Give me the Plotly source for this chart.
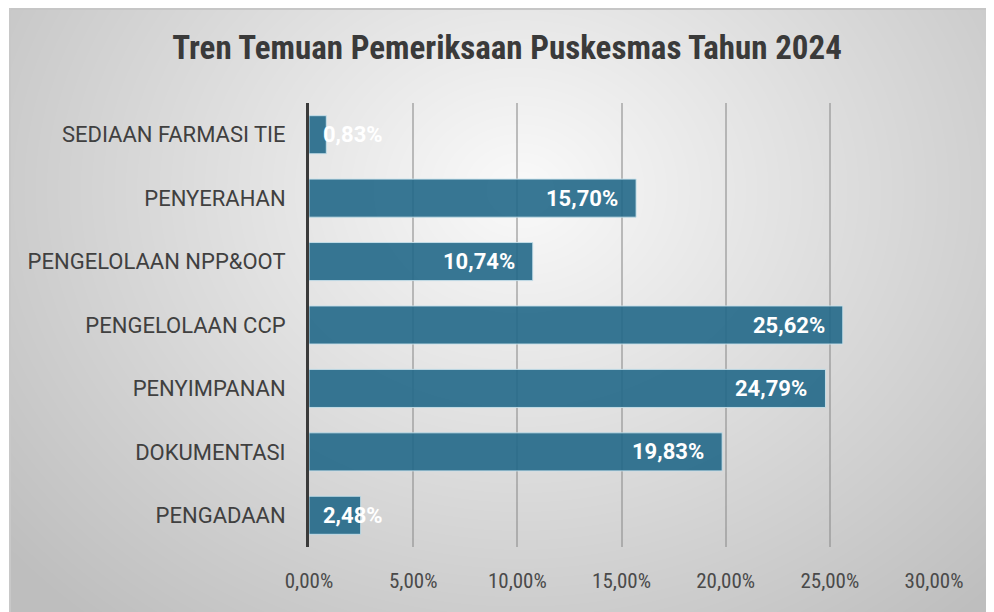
import base64, struct, zlib
import numpy as np
import plotly.graph_objects as go

categories = ["SEDIAAN FARMASI TIE", "PENYERAHAN", "PENGELOLAAN NPP&OOT",
              "PENGELOLAAN CCP", "PENYIMPANAN", "DOKUMENTASI", "PENGADAAN"]
values = [0.83, 15.70, 10.74, 25.62, 24.79, 19.83, 2.48]
x_ticks = [0, 5, 10, 15, 20, 25, 30]

# page has 8px body margin -> figure coordinates = page coordinates - 8
OFF = 8
W, H = 994, 612
ML, MT = 309 - OFF, 103 - OFF
MR = W - (934 - OFF)
MB = H - (547 - OFF)
PW, PH = W - ML - MR, H - MT - MB


def make_png(arr):
    h, w = arr.shape
    raw = b"".join(b"\x00" + arr[i].tobytes() for i in range(h))
    def chunk(t, d):
        c = struct.pack(">I", len(d)) + t + d
        return c + struct.pack(">I", zlib.crc32(t + d) & 0xffffffff)
    png = b"\x89PNG\r\n\x1a\n" + chunk(b"IHDR", struct.pack(">IIBBBBB", w, h, 8, 0, 0, 0, 0))
    png += chunk(b"IDAT", zlib.compress(raw, 9)) + chunk(b"IEND", b"")
    return "data:image/png;base64," + base64.b64encode(png).decode()

# background frame with radial gradient (decoration)
fx0, fy0 = 9 - OFF, 0
bw, bh = W - fx0 + 10, H - fy0 + 10
yy, xx = np.mgrid[0:bh, 0:bw]
cx, cy = 520 - OFF - fx0, 190 - OFF - fy0
d = np.sqrt(((xx - cx) / 620.0) ** 2 + ((yy - cy) / 520.0) ** 2)
g = 250 - 55 * np.clip(d, 0, 1.2)
g = np.clip(g, 190, 252)
g[0:2, :] = 198
g[:, 0:2] = 200
img = make_png(g.astype(np.uint8))


def px2paper_x(px):
    return (px - ML) / PW


def px2paper_y(py):
    return (H - MB - py) / PH


labels = [f"{v:.2f}".replace(".", ",") + "%" for v in values]
lab_font = dict(family="Roboto", size=22, color="white", weight="bold")

fig = go.Figure()
fig.add_trace(go.Bar(
    y=categories, x=[v / 100 for v in values], orientation="h",
    marker=dict(color="rgba(34,104,136,0.9)", line=dict(color="rgba(200,225,235,0.9)", width=1)),
    hoverinfo="skip",
))

for v, lab, c in zip(values, labels, categories):
    if v <= 5:
        fig.add_annotation(x=0, y=c, xref="x", yref="y", text=lab, showarrow=False,
                           xanchor="left", xshift=12, font=lab_font)
    else:
        fig.add_annotation(x=v / 100, y=c, xref="x", yref="y", text=lab, showarrow=False,
                           xanchor="right", xshift=-16, font=lab_font)

fig.add_layout_image(dict(
    source=img, xref="paper", yref="paper",
    x=px2paper_x(fx0), y=px2paper_y(fy0),
    sizex=bw / PW, sizey=bh / PH, sizing="stretch",
    xanchor="left", yanchor="top", layer="below",
))

fig.update_layout(
    width=W, height=H,
    margin=dict(l=ML, r=MR, t=MT, b=MB),
    paper_bgcolor="white", plot_bgcolor="rgba(0,0,0,0)",
    separators=",.",
    bargap=0.4, showlegend=False,
    title=dict(text="Tren Temuan Pemeriksaan Puskesmas Tahun 2024",
               xref="container", x=(507 - OFF) / W, xanchor="center",
               yref="container", y=1 - (47 - OFF) / H, yanchor="middle",
               font=dict(family="Roboto Condensed, Roboto", size=33, color="#3a3a3a", weight="bold")),
)

fig.update_xaxes(
    range=[0, 0.30], tickvals=[t / 100 for t in x_ticks], tickformat=".2%",
    showgrid=True, gridcolor="rgba(140,140,140,0.55)", gridwidth=2,
    zeroline=False, showline=False,
    tickfont=dict(family="Roboto Condensed, Roboto", size=21, color="#4a4a4a"),
    ticklabelstandoff=19,
)
fig.update_yaxes(
    categoryorder="array", categoryarray=categories, autorange="reversed",
    showline=True, linecolor="#3a3a3a", linewidth=3, showgrid=False,
    tickfont=dict(family="Roboto", size=22, color="#404040"),
    ticklabelstandoff=16,
)

fig.write_html("out.html")
